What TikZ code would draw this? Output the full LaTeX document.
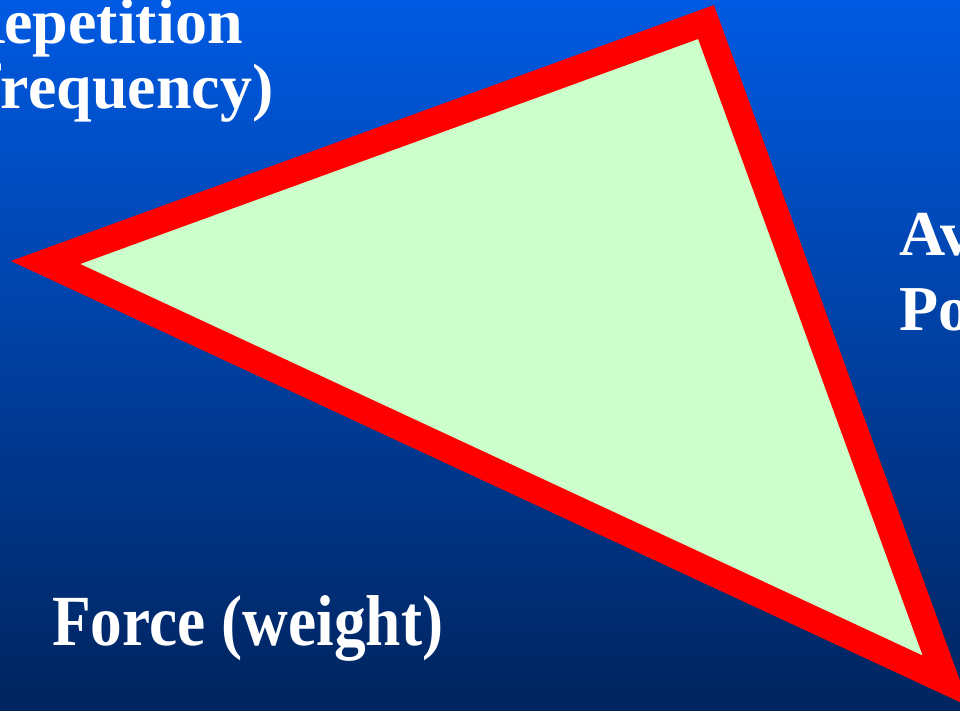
\documentclass[tikz,border=0pt]{standalone}
\usepackage{fontspec}
\setmainfont{Liberation Serif}
\newfontfamily\narrowserif[FakeStretch=0.88]{Liberation Serif}
\definecolor{bgtop}{RGB}{0,90,226}
\definecolor{bgbot}{RGB}{0,36,94}
\definecolor{trifill}{RGB}{204,255,204}
\definecolor{triedge}{RGB}{255,0,0}
\tikzset{
  lbl/.style={text=white, font=\bfseries, inner sep=0pt, anchor=base west, align=left},
  tri/.style={draw=triedge, fill=trifill, line width=26.5, line join=miter}
}
\begin{document}
\begin{tikzpicture}[x=1pt,y=-1pt]
\useasboundingbox (0,0) rectangle (960,710);
\clip (0,0) rectangle (960,710);
\shade[top color=bgtop, bottom color=bgbot] (0,0) rectangle (960,710);
\coordinate (ctop) at (706,22);
\coordinate (cleft) at (45.5,262.5);
\coordinate (cbot) at (946,681);
\draw[tri] (ctop) -- (cleft) -- (cbot) -- cycle;
\node[lbl, font=\bfseries\fontsize{64}{65}\selectfont] (rep) at (-42,108) {Repetition\\(frequency)};
\node[lbl, font=\bfseries\fontsize{64}{75}\selectfont] (avg) at (899,330) {Average\\Power};
\node[lbl, font=\narrowserif\bfseries\fontsize{72}{72}\selectfont] (force) at (52,645) {Force (weight)};
\end{tikzpicture}
\end{document}
